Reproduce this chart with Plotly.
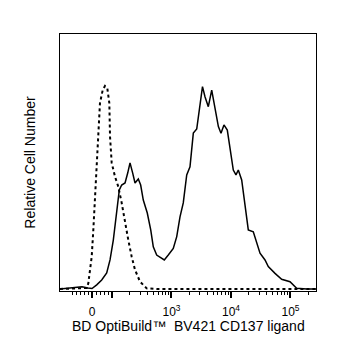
import math
import plotly.graph_objects as go

# Histogram curves on a biexponential display scale (x in display decades; 10^2 -> 0.336)
iso_x = [-0.538, -0.089, -0.062, -0.005, 0.022, 0.050, 0.079, 0.106, 0.134, 0.180, 0.218,
         0.257, 0.291, 0.303, 0.331, 0.387, 0.442, 0.499, 0.555, 0.610, 0.667, 0.723,
         0.807, 0.919, 1.087, 3.765]
iso_y = [0.0, 0.5, 2.8, 15.9, 29.1, 45.5, 62.1, 78.3, 91.6, 98.0, 100.0,
         98.9, 91.6, 75.0, 62.1, 55.3, 50.4, 42.4, 32.5, 24.1, 15.9, 9.4,
         3.6, 0.3, 0.0, 0.0]

stain_x = [-0.538, -0.286, -0.168, -0.067, 0.000, 0.079, 0.163, 0.247, 0.303, 0.358,
           0.415, 0.459, 0.499, 0.555, 0.600, 0.639, 0.684, 0.723, 0.778, 0.818,
           0.862, 0.929, 0.987, 1.030, 1.087, 1.143, 1.215, 1.282, 1.366, 1.424,
           1.479, 1.534, 1.592, 1.647, 1.703, 1.760, 1.803, 1.857, 1.899, 1.955,
           2.012, 2.067, 2.124, 2.168, 2.218, 2.274, 2.319, 2.375, 2.420, 2.459,
           2.516, 2.571, 2.627, 2.711, 2.768, 2.824, 2.908, 2.963, 3.076, 3.188,
           3.328, 3.440, 3.608, 3.765]
stain_y = [0.0, 0.5, 1.1, 0.5, 0.2, 2.0, 4.4, 7.9, 14.3, 24.1,
           38.9, 48.8, 51.2, 52.2, 57.1, 62.1, 57.1, 52.2, 54.2, 51.2,
           43.8, 37.4, 29.1, 20.8, 16.7, 15.5, 14.3, 16.7, 20.0, 25.8,
           35.5, 42.4, 56.2, 60.2, 76.8, 78.8, 88.2, 99.7, 94.7, 89.8,
           98.0, 88.2, 80.0, 76.7, 80.8, 78.3, 70.1, 58.6, 56.2, 58.6,
           53.7, 42.2, 29.1, 28.2, 22.5, 17.6, 14.3, 11.0, 7.7, 4.8,
           3.6, 0.3, 0.0, 0.0]

major_vals = [0, 100, 1000, 10000, 100000]
major_text = ["0", "", "10<sup>3</sup>", "10<sup>4</sup>", "10<sup>5</sup>"]
minor_vals = ([-100, -80, -60, -40, -20, 20, 40, 60, 80]
              + [k * 100 for k in range(2, 10)]
              + [k * 1000 for k in range(2, 10)]
              + [k * 10000 for k in range(2, 10)]
              + [200000])

x_title = "BD OptiBuild™  BV421 CD137 ligand"
y_title = "Relative Cell Number"


def disp(v):
    lin = 0.336
    if abs(v) <= 100:
        return lin * v / 100
    s = 1 if v > 0 else -1
    return s * (lin + math.log10(abs(v) / 100))


fig = go.Figure()
fig.add_trace(go.Scatter(x=iso_x, y=iso_y, mode="lines",
                         line=dict(color="black", width=2, dash="dot"),
                         hoverinfo="skip"))
fig.add_trace(go.Scatter(x=stain_x, y=stain_y, mode="lines",
                         line=dict(color="black", width=1.5),
                         hoverinfo="skip"))

font = "Liberation Sans, Arial, sans-serif"
fig.update_layout(
    width=337, height=360,
    margin=dict(l=60, r=21, t=34, b=69),
    paper_bgcolor="white", plot_bgcolor="white",
    showlegend=False,
    font=dict(family=font, color="black", size=12),
    xaxis=dict(
        range=[-0.538, 3.765],
        tickmode="array",
        tickvals=[disp(v) for v in major_vals],
        ticktext=major_text,
        ticks="outside", ticklen=6, tickwidth=2, tickcolor="black",
        ticklabelstandoff=4,
        minor=dict(tickmode="array", tickvals=[disp(v) for v in minor_vals],
                   ticks="outside", ticklen=3, tickwidth=1, tickcolor="black",
                   showgrid=False),
        showgrid=False, zeroline=False,
        showline=True, linecolor="black", linewidth=1, mirror=True,
        tickfont=dict(size=12),
    ),
    yaxis=dict(
        range=[-1.0, 125.6],
        showticklabels=False, ticks="",
        showgrid=False, zeroline=False,
        showline=True, linecolor="black", linewidth=1, mirror=True,
        title=dict(text=y_title, font=dict(size=14), standoff=20),
    ),
    annotations=[dict(text=x_title, xref="paper", yref="paper",
                      x=0.5, y=-0.136, xanchor="center", yanchor="middle",
                      showarrow=False, font=dict(size=14))],
)

fig.write_html("out.html")
